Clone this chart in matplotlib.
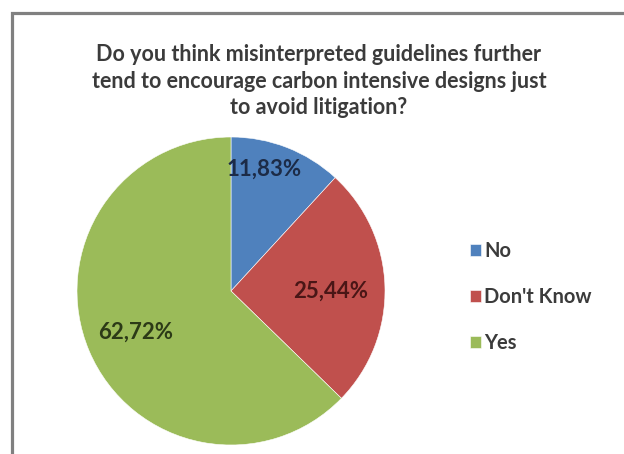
import matplotlib
matplotlib.use("Agg")
import matplotlib.pyplot as plt
from matplotlib.patches import Rectangle
import numpy as np

# ---------- Data ----------
categories = ["No", "Don't Know", "Yes"]
shares = [11.83, 25.44, 62.72]
label_texts = ["11,83%", "25,44%", "62,72%"]
title = ("Do you think misinterpreted guidelines further\n"
         "tend to encourage carbon intensive designs just\n"
         "to avoid litigation?")

# ---------- Style ----------
colors = ["#4F81BD", "#C0504D", "#9BBB59"]
label_colors = ["#1c2b47", "#4a1616", "#2c3a17"]
label_dist = [0.82, 0.65, 0.675]
label_rot = [6, -1.5, 0.5]   # small angular nudges (deg) to mimic Excel "best fit"
plt.rcParams["font.family"] = ["Lato", "DejaVu Sans"]

W, H = 624, 454
fig = plt.figure(figsize=(W / 100, H / 100), dpi=100)
fig.patch.set_facecolor("white")

# chart frame (cut off at right and bottom, as in the screenshot)
fig.patches.append(Rectangle((12 / W, -0.2), 2.0, 1.2 - 13 / H,
                             transform=fig.transFigure, fill=False,
                             edgecolor="#808080", linewidth=2.3))

# pie axes: centre (231, 291) px, radius 154 px
cx, cy, r = 231, 291, 154
ax = fig.add_axes([(cx - r) / W, (H - cy - r) / H, 2 * r / W, 2 * r / H])
wedges, _ = ax.pie(shares, colors=colors, startangle=90, counterclock=False,
                   radius=1.0, wedgeprops=dict(edgecolor="white", linewidth=0.4))
ax.set_xlim(-1, 1)
ax.set_ylim(-1, 1)
ax.set_aspect("equal")

for w, txt, col, d, dr in zip(wedges, label_texts, label_colors, label_dist, label_rot):
    ang = np.deg2rad((w.theta1 + w.theta2) / 2 + dr)
    ax.text(d * np.cos(ang), d * np.sin(ang), txt, ha="center", va="center",
            fontsize=16, fontweight="bold", color=col)

fig.text(319 / W, 1 - 81 / H, title, ha="center", va="center",
         fontsize=15.5, fontweight="bold", color="#3b3b3b", linespacing=1.3)

leg = fig.legend(wedges, categories, loc="center left",
                 bbox_to_anchor=(470 / W, 1 - 297 / H), frameon=False,
                 borderpad=0, borderaxespad=0,
                 fontsize=14.5, handlelength=0.55, handleheight=0.55,
                 handletextpad=0.15, labelspacing=1.3)
for t in leg.get_texts():
    t.set_color("#3b3b3b")
    t.set_fontweight("bold")

fig.savefig("out.png", dpi=100)
